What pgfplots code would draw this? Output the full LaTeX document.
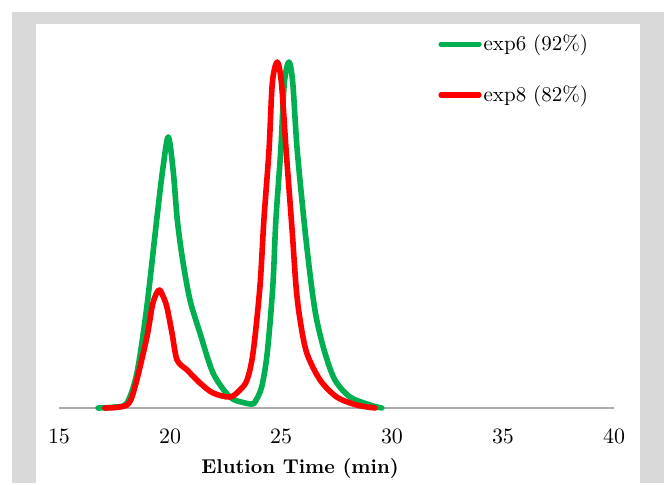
\documentclass[border=0pt]{standalone}
\usepackage{pgfplots}
\pgfplotsset{compat=1.18}
\definecolor{bggray}{HTML}{D9D9D9}
\definecolor{axgray}{HTML}{ABABAB}
\definecolor{cgreen}{HTML}{00B050}
\definecolor{cred}{HTML}{FF0000}
\begin{document}
\begin{tikzpicture}
\fill[white] (0pt,0pt) rectangle (332pt,-241.5pt);
\fill[bggray] (6pt,-6pt) rectangle (332pt,-241.5pt);
\fill[white] (18pt,-12pt) rectangle (320pt,-241.5pt);
\begin{axis}[
  at={(29.5pt,-204pt)}, anchor=south west,
  scale only axis, width=277.5pt, height=192pt,
  xmin=15, xmax=40, ymin=0, ymax=384,
  axis y line=none,
  axis x line=bottom,
  x axis line style={draw=axgray, line width=0.7pt, -},
  xtick={15,20,25,30,35,40},
  major tick length=0pt,
  xticklabel style={anchor=center, yshift=-14pt, font=\fontsize{11}{13}\selectfont},
  clip=false,
  legend style={draw=none, fill=none, at={(0.683,0.978)}, anchor=north west,
    font=\fontsize{10.5}{12}\selectfont, row sep=14pt, inner sep=0pt,
    nodes={inner sep=1pt}},
  legend cell align=left,
  legend image code/.code={\draw[line width=2.6pt, line cap=round, #1] (0pt,0pt) -- (19pt,0pt);},
]
\addplot[cgreen, line width=2.8pt, line cap=round, line join=round, smooth, tension=0.5] coordinates {
(16.76,0) (17.52,1) (18.06,5) (18.51,35) (18.95,100) (19.40,188) (19.67,238) (19.92,271)
(20.14,238) (20.33,188) (20.57,148) (20.90,108) (21.35,75) (21.94,35)
(22.70,11) (23.38,5) (23.69,4) (23.83,6) (24.13,21) (24.38,55) (24.63,121) (24.77,188)
(24.99,258) (25.15,325) (25.36,346) (25.53,325) (25.73,258) (26.08,178) (26.38,121)
(26.61,88) (26.98,55) (27.43,28) (28.11,11) (29.01,3) (29.54,0)
};
\addlegendentry{exp6 (92\%)}
\addplot[cred, line width=2.8pt, line cap=round, line join=round, smooth, tension=0.5] coordinates {
(17.07,0) (18.06,3) (18.42,21) (18.96,71) (19.23,105) (19.50,118) (19.68,112)
(19.86,101) (20.09,75) (20.32,48) (20.77,38) (21.35,25) (21.94,15) (22.70,11)
(23.15,18) (23.47,28) (23.74,55) (24.05,121) (24.23,188) (24.46,258) (24.61,325)
(24.83,346) (25.02,325) (25.23,258) (25.50,178) (25.68,121) (25.86,88) (26.16,55)
(26.76,28) (27.51,11) (28.41,3) (29.23,0)
};
\addlegendentry{exp8 (82\%)}
\end{axis}
\node[font=\bfseries\fontsize{10}{12}\selectfont] at (150pt,-234pt) {Elution Time (min)};
\end{tikzpicture}
\end{document}
